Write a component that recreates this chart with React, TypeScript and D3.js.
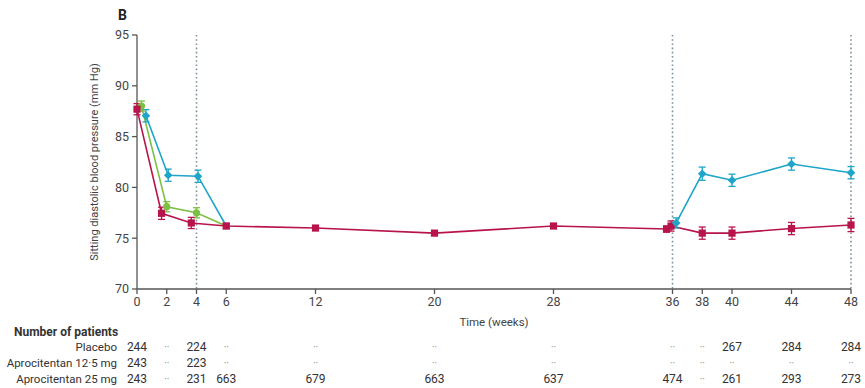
import React from "react";
import * as d3 from "d3";

// ---------- data ----------
const xTicks = [0, 2, 4, 6, 12, 20, 28, 36, 38, 40, 44, 48];
const yTicks = [70, 75, 80, 85, 90, 95];
const refLines = [4, 36, 48];

// Period 1 (double-blind) + period 2 (single-blind) — aprocitentan 25 mg
const red1Weeks = [0, 2, 4, 6, 12, 20, 28, 36];
const red1Dodge = [0, -0.35, -0.35, 0, 0, 0, 0, -0.4];
const red1Values = [87.7, 77.45, 76.5, 76.2, 76.0, 75.5, 76.2, 75.9];
const red1SE = [0.55, 0.6, 0.55, 0.25, 0.2, 0.2, 0.22, 0.3];

// Period 1 — aprocitentan 12.5 mg
const greenWeeks = [0, 2, 4];
const greenDodge = [0.3, 0, 0];
const greenValues = [88.0, 78.1, 77.5];
const greenSE = [0.5, 0.5, 0.5];

// Period 1 — placebo
const blue1Weeks = [0, 2, 4];
const blue1Dodge = [0.6, 0.1, 0.1];
const blue1Values = [87.05, 81.2, 81.1];
const blue1SE = [0.6, 0.6, 0.6];

// Period 3 (withdrawal) — placebo
const blue2Weeks = [36, 38, 40, 44, 48];
const blue2Dodge = [0.25, 0, 0, 0, 0];
const blue2Values = [76.5, 81.35, 80.7, 82.3, 81.45];
const blue2SE = [0.5, 0.65, 0.6, 0.6, 0.6];

// Period 3 (withdrawal) — aprocitentan 25 mg
const red2Weeks = [36, 38, 40, 44, 48];
const red2Dodge = [-0.1, 0, 0, 0, 0];
const red2Values = [76.2, 75.5, 75.5, 75.95, 76.3];
const red2SE = [0.5, 0.6, 0.6, 0.6, 0.65];

// Number of patients table
const tableRows = ["Placebo", "Aprocitentan 12·5 mg", "Aprocitentan 25 mg"];
const placeboN = ["244", "··", "224", "··", "··", "··", "··", "··", "··", "267", "284", "284"];
const apro12N = ["243", "··", "223", "··", "··", "··", "··", "··", "··", "··", "··", "··"];
const apro25N = ["243", "··", "231", "663", "679", "663", "637", "474", "··", "261", "293", "273"];

// ---------- styling ----------
const RED = "#b8144c";
const BLUE = "#1ea5c8";
const GREEN = "#7cc044";
const AXIS = "#555";
const TEXT = "#444";
const FONT = "Roboto, 'Open Sans', sans-serif";

const W = 865;
const H = 388;
const x = d3.scaleLinear().domain([0, 48]).range([137, 851]);
const y = d3.scaleLinear().domain([70, 95]).range([289, 35]);

type Pt = { w: number; v: number; se: number };
const mk = (weeks: number[], dodge: number[], vals: number[], se: number[]): Pt[] =>
  weeks.map((w, i) => ({ w: w + dodge[i], v: vals[i], se: se[i] }));

const red1 = mk(red1Weeks, red1Dodge, red1Values, red1SE);
const green = mk(greenWeeks, greenDodge, greenValues, greenSE);
const blue1 = mk(blue1Weeks, blue1Dodge, blue1Values, blue1SE);
const blue2 = mk(blue2Weeks, blue2Dodge, blue2Values, blue2SE);
const red2 = mk(red2Weeks, red2Dodge, red2Values, red2SE);

const line = d3
  .line<Pt>()
  .x((d) => x(d.w))
  .y((d) => y(d.v));

function ErrorBars({ pts, color }: { pts: Pt[]; color: string }) {
  return (
    <g stroke={color} strokeWidth={1.3}>
      {pts.map((d, i) => (
        <g key={i}>
          <line x1={x(d.w)} x2={x(d.w)} y1={y(d.v - d.se)} y2={y(d.v + d.se)} />
          <line x1={x(d.w) - 3.5} x2={x(d.w) + 3.5} y1={y(d.v - d.se)} y2={y(d.v - d.se)} />
          <line x1={x(d.w) - 3.5} x2={x(d.w) + 3.5} y1={y(d.v + d.se)} y2={y(d.v + d.se)} />
        </g>
      ))}
    </g>
  );
}

function Markers({ pts, color, shape }: { pts: Pt[]; color: string; shape: "square" | "circle" | "diamond" }) {
  return (
    <g fill={color}>
      {pts.map((d, i) => {
        const cx = x(d.w);
        const cy = y(d.v);
        if (shape === "square") return <rect key={i} x={cx - 3.6} y={cy - 3.6} width={7.2} height={7.2} />;
        if (shape === "circle") return <circle key={i} cx={cx} cy={cy} r={3.6} />;
        return <path key={i} d={`M${cx},${cy - 4.3}L${cx + 4.3},${cy}L${cx},${cy + 4.3}L${cx - 4.3},${cy}Z`} />;
      })}
    </g>
  );
}

export default function App() {
  const week6 = red1[3];
  const greenLine = [...green, week6];
  const blueLine = [...blue1, week6];
  const tableData = [placeboN, apro12N, apro25N];
  const rowY = [351, 367, 383];

  return (
    <svg
      width={W}
      height={H}
      style={{ position: "absolute", left: 0, top: 0, background: "#fff" }}
      fontFamily={FONT}
    >
      {/* panel label */}
      <text x={118} y={20} fontSize={14} fontWeight="bold" fill="#222">
        B
      </text>

      {/* reference dotted lines */}
      {refLines.map((w) => (
        <line
          key={w}
          x1={x(w)}
          x2={x(w)}
          y1={y(95)}
          y2={y(70)}
          stroke="#7d919e"
          strokeWidth={1.6}
          strokeDasharray="1.6,2.6"
        />
      ))}

      {/* axes */}
      <line x1={x(0)} x2={x(0)} y1={y(95)} y2={y(70)} stroke={AXIS} strokeWidth={1.3} />
      <line x1={x(0)} x2={x(48)} y1={y(70)} y2={y(70)} stroke={AXIS} strokeWidth={1.3} />
      {yTicks.map((t) => (
        <g key={t}>
          <line x1={x(0) - 5} x2={x(0)} y1={y(t)} y2={y(t)} stroke={AXIS} strokeWidth={1.3} />
          <text x={x(0) - 8} y={y(t)} dy="0.35em" textAnchor="end" fontSize={12.5} fill={TEXT}>
            {t}
          </text>
        </g>
      ))}
      {xTicks.map((t) => (
        <g key={t}>
          <line x1={x(t)} x2={x(t)} y1={y(70)} y2={y(70) + 5} stroke={AXIS} strokeWidth={1.3} />
          <text x={x(t)} y={y(70) + 17} textAnchor="middle" fontSize={12.5} fill={TEXT}>
            {t}
          </text>
        </g>
      ))}
      <text x={(x(0) + x(48)) / 2} y={326} textAnchor="middle" fontSize={11.5} fill={TEXT}>
        Time (weeks)
      </text>
      <text
        transform={`translate(98,${(y(95) + y(70)) / 2 + 0}) rotate(-90)`}
        textAnchor="middle"
        fontSize={11}
        fill={TEXT}
      >
        Sitting diastolic blood pressure (mm Hg)
      </text>

      {/* lines */}
      <g fill="none" strokeWidth={1.6}>
        <path d={line(blueLine) || ""} stroke={BLUE} />
        <path d={line(greenLine) || ""} stroke={GREEN} />
        <path d={line(red1) || ""} stroke={RED} />
        <path d={line(blue2) || ""} stroke={BLUE} />
        <path d={line(red2) || ""} stroke={RED} />
      </g>

      <ErrorBars pts={blue1} color={BLUE} />
      <ErrorBars pts={green} color={GREEN} />
      <ErrorBars pts={red1} color={RED} />
      <ErrorBars pts={blue2} color={BLUE} />
      <ErrorBars pts={red2} color={RED} />

      <Markers pts={blue1} color={BLUE} shape="diamond" />
      <Markers pts={green} color={GREEN} shape="circle" />
      <Markers pts={red1} color={RED} shape="square" />
      <Markers pts={red2} color={RED} shape="square" />
      <Markers pts={blue2} color={BLUE} shape="diamond" />

      {/* number at risk table */}
      <text x={14} y={336} fontSize={12} fontWeight="bold" fill="#333">
        Number of patients
      </text>
      {tableRows.map((r, i) => (
        <g key={r}>
          <text x={117} y={rowY[i]} textAnchor="end" fontSize={11.5} fill="#333">
            {r}
          </text>
          {tableData[i].map((n, j) => (
            <text
              key={j}
              x={x(xTicks[j])}
              y={rowY[i]}
              textAnchor="middle"
              fontSize={n === "··" ? 10 : 12}
              fill={n === "··" ? "#888" : "#333"}
            >
              {n}
            </text>
          ))}
        </g>
      ))}
    </svg>
  );
}
